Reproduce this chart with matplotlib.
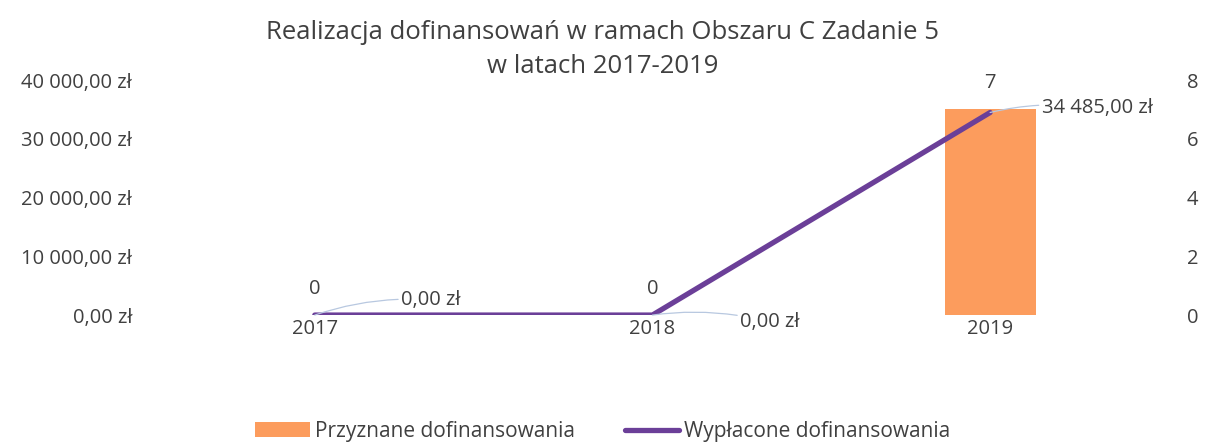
import matplotlib.pyplot as plt
import numpy as np

plt.rcParams['font.family'] = ['Open Sans', 'DejaVu Sans']

years = ['2017', '2018', '2019']
przyznane = [0, 0, 7]              # count, right axis
wyplacone = [0.0, 0.0, 34485.0]    # PLN, left axis
line_label_offsets = [(62, 11), (63, -5), (37, 3)]

txt = '#404040'
bar_c = '#fc9c5d'
line_c = '#6b3f98'
lead_c = '#b8c8e0'
fs = 15


def pln(v):
    s = f'{v:,.2f}'.replace(',', ' ').replace('.', ',')
    return s + ' zł'


fig = plt.figure(figsize=(12.06, 4.45), dpi=100)
ax = fig.add_axes([0.121, 0.292, 0.84, 0.528])
ax2 = ax.twinx()
ax.set_zorder(ax2.get_zorder() + 1)
ax.patch.set_visible(False)

x = np.arange(len(years))
bars = ax2.bar(x, przyznane, width=0.27, color=bar_c, label='Przyznane dofinansowania')
ln, = ax.plot(x, wyplacone, color=line_c, lw=3.8, solid_capstyle='round',
              label='Wyplacone dofinansowania')

ax.set_xlim(-0.5, 2.5)
ax.set_ylim(0, 40000)
ax2.set_ylim(0, 8)
ax.set_yticks(np.arange(0, 40001, 10000))
ax.set_yticklabels([pln(v) for v in np.arange(0, 40001, 10000)])
ax2.set_yticks(range(0, 9, 2))
ax.set_xticks(x)
ax.set_xticklabels(years)

for a in (ax, ax2):
    for s in a.spines.values():
        s.set_visible(False)
    a.tick_params(length=0, colors=txt, labelsize=14.5)
ax.tick_params(axis='y', pad=10)
ax2.tick_params(axis='y', pad=20)
ax.tick_params(axis='x', pad=3)

# bar labels
for xi, v in zip(x, przyznane):
    ax2.annotate(str(v), (xi, v), xytext=(0, 19), textcoords='offset points',
                 ha='center', va='center', color=txt, fontsize=14.5)

# line labels with leader lines
for xi, v, off in zip(x, wyplacone, line_label_offsets):
    ax.annotate(pln(v), (xi, v), xytext=off, textcoords='offset points',
                ha='left', va='center', color=txt, fontsize=14.5,
                arrowprops=dict(arrowstyle='-', color=lead_c, lw=0.9,
                                shrinkA=0, shrinkB=0,
                                connectionstyle='arc3,rad=0.1'))

fig.suptitle('Realizacja dofinansowań w ramach Obszaru C Zadanie 5\nw latach 2017-2019',
             y=0.955, fontsize=18.5, color=txt, linespacing=1.45)

leg = fig.legend([bars, ln], ['Przyznane dofinansowania', 'Wypłacone dofinansowania'],
                 loc='lower center', bbox_to_anchor=(0.5, -0.035), ncol=2, frameon=False,
                 fontsize=fs, handlelength=2.6, columnspacing=2.4, handletextpad=0.25)
for t in leg.get_texts():
    t.set_color(txt)

fig.savefig('out.png', dpi=100)
